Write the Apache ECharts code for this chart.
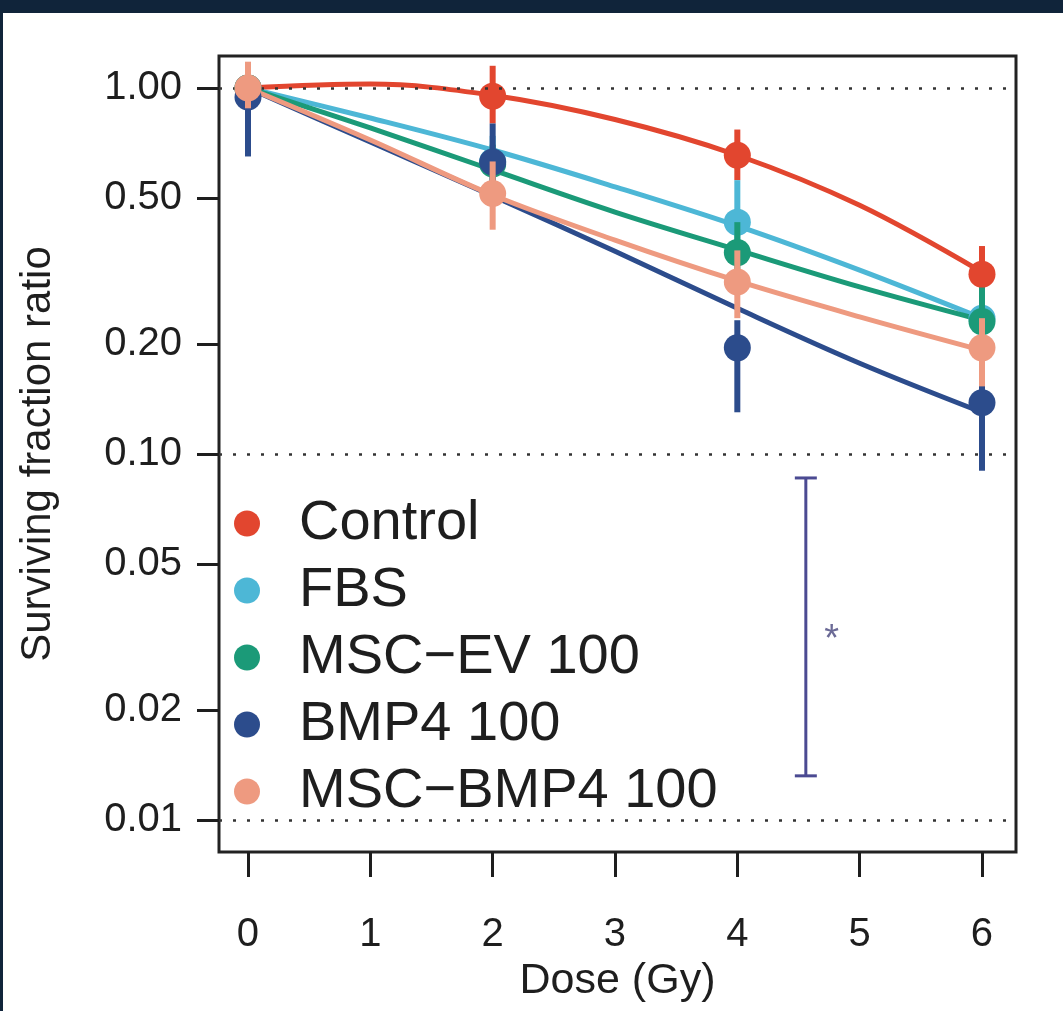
<!DOCTYPE html>
<html><head><meta charset="utf-8">
<script src="https://cdn.jsdelivr.net/npm/echarts@6/dist/echarts.min.js"></script>
<style>html,body{margin:0;padding:0;background:#fff}#c{width:1063px;height:1011px}</style>
</head><body><div id="c"></div>
<script>
// ---- data ----
const groups = ['Control', 'FBS', 'MSC\u2212EV 100', 'BMP4 100', 'MSC\u2212BMP4 100'];
const doses = [0, 2, 4, 6];
const fitDoses = [0, 1, 2, 3, 4, 5, 6];
const yTickValues = [0.01, 0.02, 0.05, 0.1, 0.2, 0.5, 1];
const xTickValues = [0, 1, 2, 3, 4, 5, 6];
const refLines = [1, 0.1, 0.01];

const controlMean = [1.00, 0.95, 0.655, 0.31];
const controlLow  = [0.95, 0.80, 0.56, 0.275];
const controlHigh = [1.05, 1.15, 0.77, 0.37];
const controlFit  = [1.00, 1.025, 0.955, 0.82, 0.655, 0.478, 0.314];

const fbsMean = [1.00, 0.63, 0.43, 0.235];
const fbsLow  = [0.95, 0.56, 0.33, 0.20];
const fbsHigh = [1.05, 0.74, 0.56, 0.28];
const fbsFit  = [1.00, 0.828, 0.677, 0.537, 0.420, 0.318, 0.235];

const evMean = [1.00, 0.62, 0.355, 0.23];
const evLow  = [0.95, 0.53, 0.30, 0.19];
const evHigh = [1.05, 0.70, 0.43, 0.285];
const evFit  = [1.00, 0.778, 0.597, 0.458, 0.361, 0.286, 0.232];

const bmp4Mean = [0.945, 0.628, 0.195, 0.138];
const bmp4Low  = [0.65, 0.48, 0.13, 0.09];
const bmp4High = [1.08, 0.80, 0.232, 0.158];
const bmp4Fit  = [1.00, 0.712, 0.507, 0.358, 0.25, 0.177, 0.130];

const mscBmp4Mean = [1.00, 0.515, 0.295, 0.195];
const mscBmp4Low  = [0.88, 0.41, 0.235, 0.153];
const mscBmp4High = [1.18, 0.63, 0.36, 0.235];
const mscBmp4Fit  = [1.00, 0.721, 0.510, 0.384, 0.297, 0.237, 0.192];

const sigBar = [4.56, 0.0132, 0.086];   // dose, low, high
const sigStar = [4.77, 0.031];

// ---- styling ----
const colors = ['#e2462f', '#4db7d6', '#1b9a78', '#2c4c8c', '#ee9a80'];
const FONT = "'Liberation Sans', Arial, Helvetica, sans-serif";
const INK = '#1e1e1e';

const means = [controlMean, fbsMean, evMean, bmp4Mean, mscBmp4Mean];
const lows = [controlLow, fbsLow, evLow, bmp4Low, mscBmp4Low];
const highs = [controlHigh, fbsHigh, evHigh, bmp4High, mscBmp4High];
const fits = [controlFit, fbsFit, evFit, bmp4Fit, mscBmp4Fit];

const series = [];
groups.forEach((g, k) => {
  series.push({
    name: g, type: 'line', smooth: 0.35, showSymbol: false, silent: true,
    data: fitDoses.map((d, i) => [d, fits[k][i]]),
    lineStyle: { color: colors[k], width: 5 }, itemStyle: { color: colors[k] }, z: 2
  });
});
groups.forEach((g, k) => {
  series.push({
    name: g, type: 'custom', silent: true, z: 3 + k,
    encode: { x: 0, y: [1, 2] },
    data: doses.map((d, i) => [d, lows[k][i], highs[k][i]]),
    renderItem: (params, api) => {
      const a = api.coord([api.value(0), api.value(1)]);
      const b = api.coord([api.value(0), api.value(2)]);
      return { type: 'line', shape: { x1: a[0], y1: a[1], x2: b[0], y2: b[1] },
        style: { stroke: colors[k], lineWidth: 6 } };
    }
  });
  series.push({
    name: g, type: 'scatter', symbol: 'circle', symbolSize: 27, silent: true, z: 3 + k,
    data: doses.map((d, i) => [d, means[k][i]]),
    itemStyle: { color: colors[k], opacity: 1 }
  });
});
// significance bracket
series.push({
  type: 'custom', silent: true, z: 4,
  encode: { x: 0, y: [1, 2] },
  data: [sigBar],
  renderItem: (params, api) => {
    const a = api.coord([api.value(0), api.value(1)]);
    const b = api.coord([api.value(0), api.value(2)]);
    const s = { stroke: '#4b4a92', lineWidth: 3 };
    return { type: 'group', children: [
      { type: 'line', shape: { x1: a[0], y1: a[1], x2: b[0], y2: b[1] }, style: s },
      { type: 'line', shape: { x1: a[0] - 11, y1: a[1], x2: a[0] + 11, y2: a[1] }, style: s },
      { type: 'line', shape: { x1: b[0] - 11, y1: b[1], x2: b[0] + 11, y2: b[1] }, style: s }
    ] };
  }
});
series.push({
  type: 'custom', silent: true, z: 4,
  encode: { x: 0, y: 1 },
  data: [sigStar],
  renderItem: (params, api) => {
    const p = api.coord([api.value(0), api.value(1)]);
    return { type: 'text', x: p[0], y: p[1],
      style: { text: '*', fill: '#6b6a96', font: '38px ' + FONT, align: 'center', verticalAlign: 'middle' } };
  }
});
// dotted reference lines
series.push({
  type: 'line', data: [], silent: true, z: 10,
  markLine: { silent: true, symbol: 'none', label: { show: false },
    lineStyle: { type: [3, 11], color: '#333', width: 2.5 },
    data: refLines.map(v => ({ yAxis: v })) }
});

const chart = echarts.init(document.getElementById('c'), null, { renderer: 'canvas' });
chart.setOption({
  backgroundColor: '#fff',
  animation: false,
  textStyle: { fontFamily: FONT },
  graphic: [
    { type: 'rect', shape: { x: 0, y: 0, width: 1063, height: 13 }, style: { fill: '#10243a' }, z: 100 },
    { type: 'rect', shape: { x: 0, y: 0, width: 3, height: 1011 }, style: { fill: '#10243a' }, z: 100 }
  ],
  grid: { left: 219, top: 56, width: 797, height: 796, show: true,
    borderColor: '#222', borderWidth: 3, backgroundColor: 'transparent' },
  legend: {
    orient: 'vertical', left: 234, top: 490, padding: 0, itemGap: 0,
    icon: 'circle', itemWidth: 26, itemHeight: 26, selectedMode: false,
    textStyle: { fontSize: 56, color: INK, fontFamily: FONT, lineHeight: 67, padding: [0, 0, 0, 34] },
    data: groups.map((g, k) => ({ name: g, itemStyle: { color: colors[k] } }))
  },
  xAxis: {
    type: 'value', min: -0.237, max: 6.278,
    name: 'Dose (Gy)', nameLocation: 'middle', nameGap: 102,
    nameTextStyle: { fontSize: 43, color: INK, fontFamily: FONT },
    axisLine: { show: false, onZero: false },
    axisTick: { show: true, customValues: xTickValues, length: 25, lineStyle: { color: INK, width: 3 } },
    axisLabel: { customValues: xTickValues, fontSize: 40, color: INK, margin: 63, fontFamily: FONT },
    splitLine: { show: false }
  },
  yAxis: {
    type: 'log', logBase: 10, min: 0.008175, max: 1.223,
    name: 'Surviving fraction ratio', nameLocation: 'middle', nameGap: 160, nameRotate: 90,
    nameTextStyle: { fontSize: 42, color: INK, fontFamily: FONT },
    axisLine: { show: false, onZero: false },
    axisTick: { show: true, customValues: yTickValues, length: 22, lineStyle: { color: INK, width: 3 } },
    axisLabel: { customValues: yTickValues, fontSize: 40, color: INK, margin: 37, fontFamily: FONT,
      formatter: v => Number(v).toFixed(2) },
    splitLine: { show: false }
  },
  series: series
});
</script></body></html>
